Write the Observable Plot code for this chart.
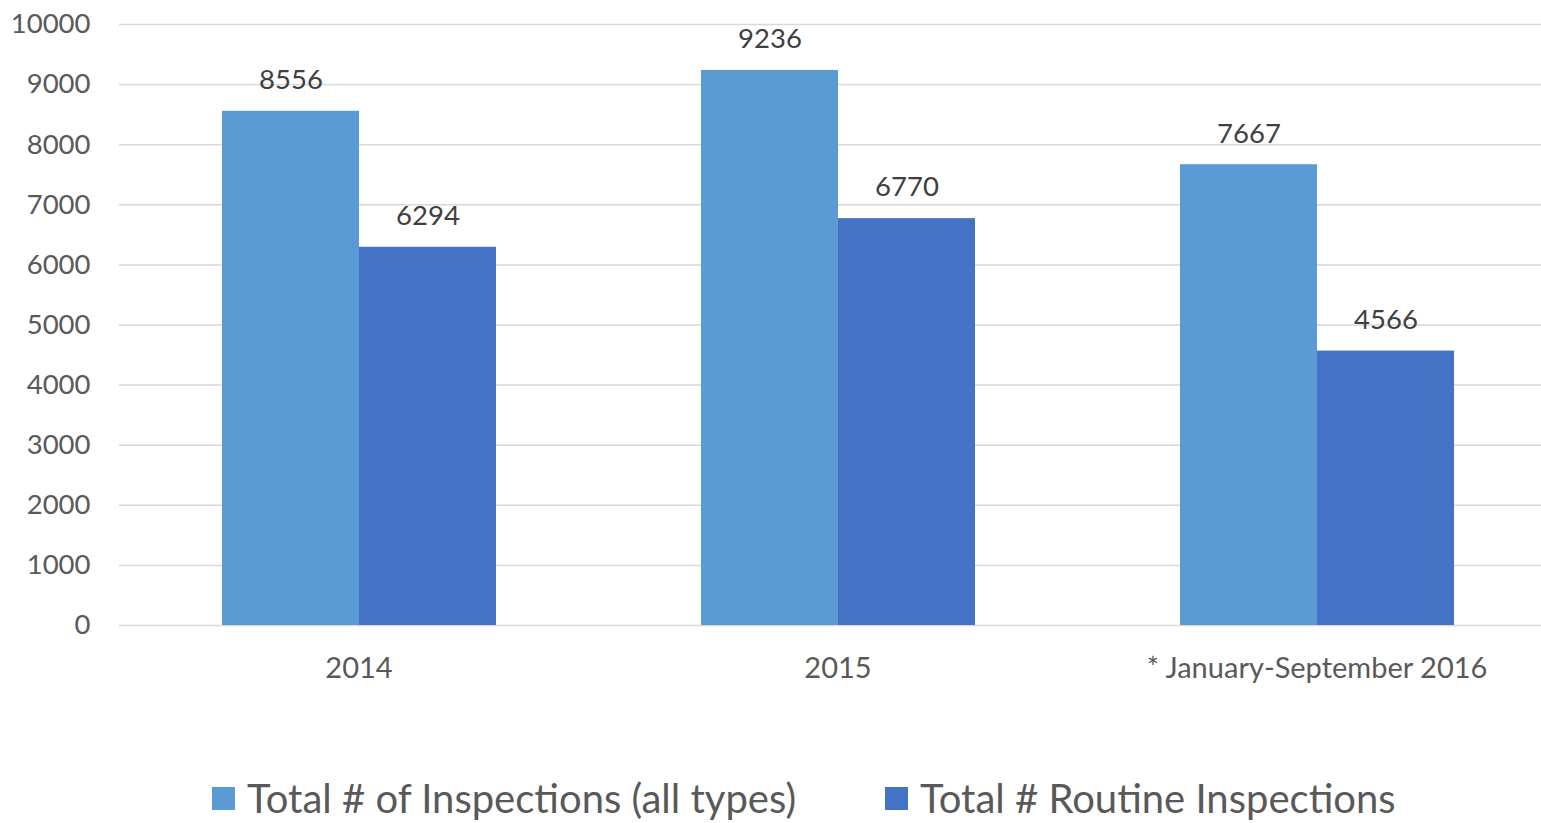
<!DOCTYPE html>
<html>
<head>
<meta charset="utf-8">
<script src="https://cdn.jsdelivr.net/npm/d3@7"></script>
<script src="https://cdn.jsdelivr.net/npm/@observablehq/plot@0.6"></script>
<style>
  html, body { margin: 0; padding: 0; background: #fff; overflow: hidden; }
  #wrap { position: relative; width: 1541px; height: 823px; }
  #legend { position: absolute; left: 0; top: 773px; width: 1541px; display: flex; font-family: Lato, sans-serif; font-size: 40px; color: #595959; line-height: 50px; white-space: nowrap; }
  .item { position: absolute; display: flex; align-items: center; }
  .sw { width: 23px; height: 23px; margin-right: 12px; }
</style>
</head>
<body>
<div id="wrap">
  <div id="chart"></div>
  <div id="legend"></div>
</div>
<script>
const years = ["2014", "2015", "* January-September 2016"];
const seriesNames = ["Total # of Inspections (all types)", "Total # Routine Inspections"];
const allTypes = [8556, 9236, 7667];
const routine = [6294, 6770, 4566];
const colors = ["#5B9BD5", "#4472C4"];
const yTicks = [0, 1000, 2000, 3000, 4000, 5000, 6000, 7000, 8000, 9000, 10000];

const rows = [];
years.forEach((yr, i) => {
  rows.push({year: yr, series: seriesNames[0], value: allTypes[i]});
  rows.push({year: yr, series: seriesNames[1], value: routine[i]});
});

const chart = Plot.plot({
  width: 1541,
  height: 700,
  marginLeft: 118,
  marginRight: 0,
  marginTop: 24,
  marginBottom: 75,
  style: {fontFamily: "Lato, sans-serif", fontSize: "27.5px", color: "#595959", background: "#fff"},
  fx: {domain: years, range: [118.5, 1555.5], padding: 0, label: null, tickSize: 0, tickPadding: 32},
  x: {domain: seriesNames, paddingInner: 0, paddingOuter: 0.748, axis: null},
  y: {domain: [0, 10000], ticks: yTicks, tickFormat: d3.format("d"), grid: true, label: null, tickSize: 0, tickPadding: 29},
  color: {domain: seriesNames, range: colors},
  marks: [
    Plot.gridY(yTicks, {stroke: "#d9d9d9", strokeOpacity: 1, strokeWidth: 1.5}),
    Plot.barY(rows, {fx: "year", x: "series", y: "value", fill: "series"}),
    Plot.text(rows, {fx: "year", x: "series", y: "value", text: d => String(d.value), dy: -31, fill: "#404040", fontSize: 27.5})
  ]
});
chart.querySelectorAll("g[aria-label='fx-axis tick label'] text, g[aria-label='fx-axis'] text").forEach(t => t.style.fontSize = "29px");
document.getElementById("chart").appendChild(chart);

const legend = document.getElementById("legend");
const lefts = [212, 885];
seriesNames.forEach((name, i) => {
  const it = document.createElement("div");
  it.className = "item";
  it.style.left = lefts[i] + "px";
  const sw = document.createElement("div");
  sw.className = "sw";
  sw.style.background = colors[i];
  const tx = document.createElement("span");
  tx.textContent = name;
  it.appendChild(sw);
  it.appendChild(tx);
  legend.appendChild(it);
});
</script>
</body>
</html>
